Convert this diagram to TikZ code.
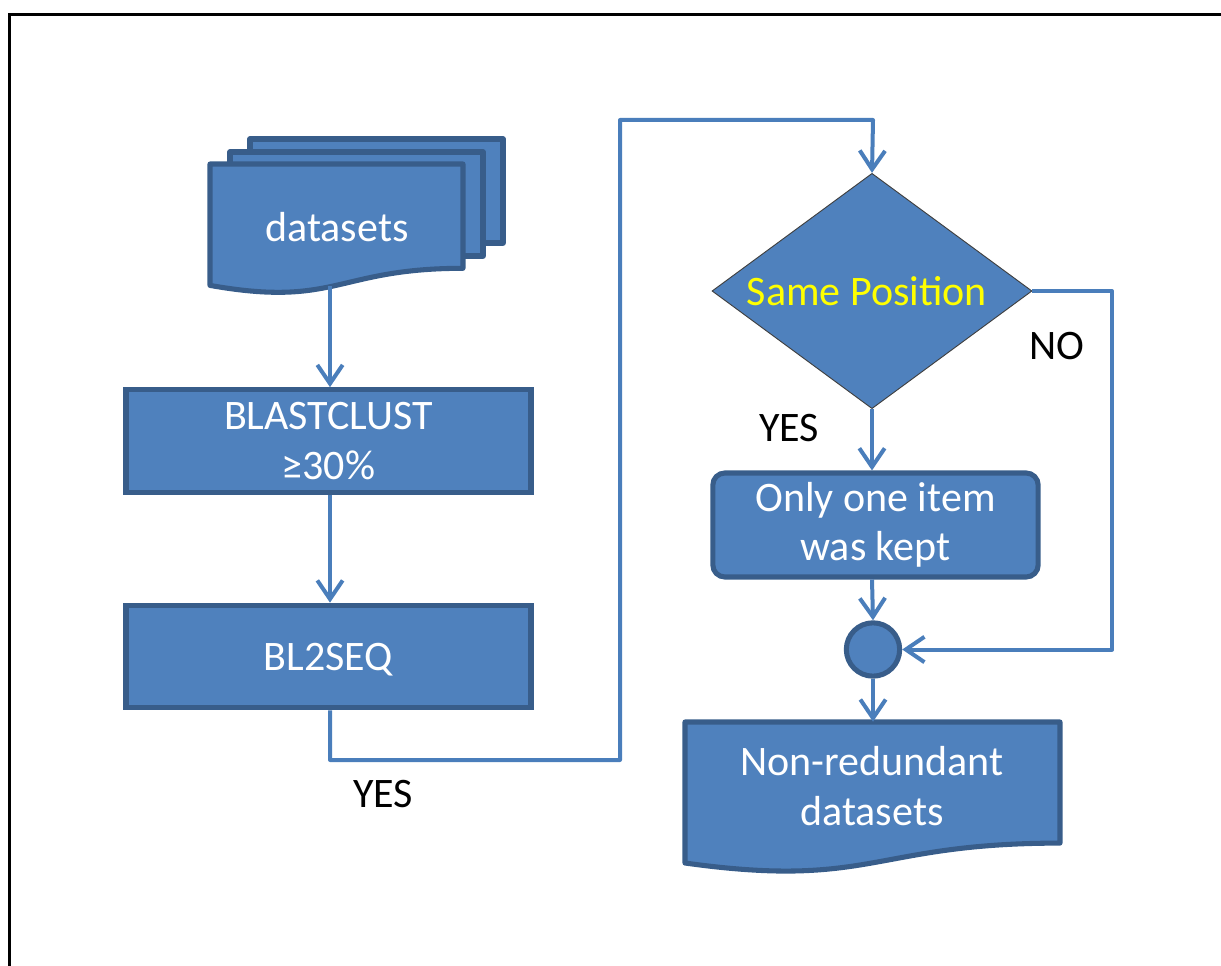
\documentclass[tikz,border=0pt]{standalone}
\usepackage{fontspec}
\setmainfont{Carlito}
\usetikzlibrary{arrows.meta,shapes.geometric}
\definecolor{boxfill}{HTML}{4F81BD}
\definecolor{boxline}{HTML}{385D8A}
\definecolor{conn}{HTML}{4A7EBB}
\definecolor{ytext}{HTML}{FFFF00}
\tikzset{
  shapebox/.style={fill=boxfill, draw=boxline, line width=3.8pt},
  procbox/.style={shapebox, rectangle, minimum width=303.75pt, minimum height=77pt, inner sep=0pt},
  roundbox/.style={shapebox, rectangle, rounded corners=9pt, minimum width=244pt, minimum height=78pt, inner sep=0pt},
  txt/.style={text=white, align=center, font=\fontsize{31.5pt}{37pt}\selectfont, inner sep=0pt},
  lbl/.style={text=black, font=\fontsize{31.5pt}{37pt}\selectfont, inner sep=0pt},
  conn/.style={draw=conn, line width=3pt, line join=round, -{Straight Barb[length=14pt,width=19pt,line width=3pt]}},
  hidden/.style={rectangle, inner sep=0pt, draw=none}
}
\begin{document}
\begin{tikzpicture}[x=0.75pt,y=-0.75pt]
\useasboundingbox (0,0) rectangle (1221,966);
% frame
\draw[line width=2.3pt, line cap=rect] (9.5,970) -- (9.5,14.7) -- (1225,14.7);

% datasets (multi-document)
\draw[shapebox, line join=round] (250,139) rectangle (503,243);
\draw[shapebox, line join=round] (230,152) rectangle (483,256);
\draw[shapebox, line join=round] (210,164) -- (463,164) -- (463,268.3)
  .. controls (336.5,268.3) and (336.5,307.9) .. (210,285.4) -- cycle;
\node[hidden, minimum width=189.75pt, minimum height=91pt] (ds) at (336.5,225) {};
\node[txt] (dstxt) at (337,227) {datasets};
\coordinate (dsout) at (330,286);

% process boxes
\node[procbox] (blast) at (328.5,441) {};
\node[txt] (blasttxt) at (328.5,441) {BLASTCLUST\\≥30\%};
\node[procbox] (bl2) at (328.5,656.5) {};
\node[txt] (bl2txt) at (328.5,660) {BL2SEQ};

% decision
\node[diamond, fill=boxfill, draw=black!75, line width=0.7pt, aspect=1.36,
      minimum width=240pt, minimum height=176.5pt, inner sep=0pt] (same) at (872,291) {};
\node[font=\fontsize{31.5pt}{37pt}\selectfont, text=ytext, inner sep=0pt] (sametxt) at (867,291) {Same Position};

% keep box
\node[roundbox] (keep) at (875.5,525) {};
\node[txt] (keeptxt) at (875.5,525) {Only one item\\was kept};

% junction
\node[circle, shapebox, minimum size=40pt, inner sep=0pt] (join) at (873,649.5) {};

% output document
\draw[shapebox, line join=round] (685,722) -- (1060,722) -- (1060,843.1)
  .. controls (872.5,843.1) and (872.5,889.2) .. (685,863) -- cycle;
\node[hidden, minimum width=281.25pt, minimum height=90pt] (nr) at (872.5,782) {};
\node[txt] (nrtxt) at (872,786) {Non-redundant\\datasets};

% connectors
\coordinate (c1) at (330,760);
\coordinate (c2) at (620,760);
\coordinate (c3) at (620,120);
\coordinate (c4) at (873,120);
\coordinate (n1) at (1112,291);
\coordinate (n2) at (1112,649.5);
\draw[conn] (dsout) -- (dsout |- blast.north);
\draw[conn] (dsout |- blast.south) -- (dsout |- bl2.north);
\draw[conn] (dsout |- bl2.south) -- (c1) -- (c2) -- (c3) -- (c4) -- (same.north);
\draw[conn] (same.east) -- (n1) -- (n2) -- (join.east);
\draw[conn] (same.south) -- (same.south |- keep.north);
\draw[conn] (same.south |- keep.south) -- (join.north);
\draw[conn] (join.south) -- (join.south |- nr.north);

% labels
\node[lbl] (yes1) at (383,794) {YES};
\node[lbl] (yes2) at (789,428) {YES};
\node[lbl] (no) at (1057,346) {NO};
\end{tikzpicture}
\end{document}
